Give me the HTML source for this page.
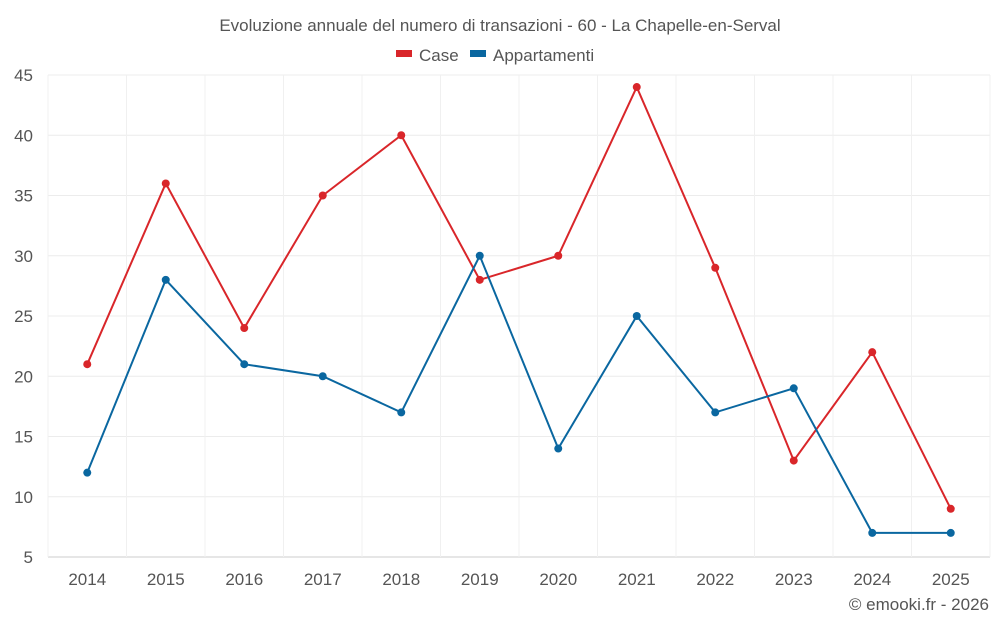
<!DOCTYPE html>
<html><head><meta charset="utf-8"><style>
body{margin:0;background:#fff;font-family:"Liberation Sans",sans-serif;}
svg text{font-family:"Liberation Sans",sans-serif;}
</style></head><body>
<svg id="chart" width="1000" height="625" xmlns="http://www.w3.org/2000/svg">
<text x="500" y="31" text-anchor="middle" font-size="17" fill="#555">Evoluzione annuale del numero di transazioni - 60 - La Chapelle-en-Serval</text>
<g>
<rect x="396" y="50" width="16" height="7" fill="#d9262a"/>
<text x="419" y="61" font-size="17" fill="#555">Case</text>
<rect x="470" y="50" width="16" height="7" fill="#0a67a0"/>
<text x="493" y="61" font-size="17" fill="#555">Appartamenti</text>
</g>
<g id="grid"></g>
<g id="axes"></g>
<g id="series"></g>
<text x="989" y="610" text-anchor="end" font-size="17" fill="#555">© emooki.fr - 2026</text>
</svg>
<script>
const years=[2014,2015,2016,2017,2018,2019,2020,2021,2022,2023,2024,2025];
const caseValues=[21,36,24,35,40,28,30,44,29,13,22,9];
const appValues=[12,28,21,20,17,30,14,25,17,19,7,7];
const yTicks=[5,10,15,20,25,30,35,40,45];
const NS="http://www.w3.org/2000/svg";
const pLeft=48,pRight=990,pTop=75,pBottom=557,yMin=5,yMax=45;
const step=(pRight-pLeft)/years.length;
const xs=i=>pLeft+step*(i+0.5);
const ys=v=>pBottom-(v-yMin)/(yMax-yMin)*(pBottom-pTop);
function mk(tag,attrs,parent){const e=document.createElementNS(NS,tag);for(const k in attrs)e.setAttribute(k,attrs[k]);parent.appendChild(e);return e;}
const gridG=document.getElementById('grid'),axesG=document.getElementById('axes'),seriesG=document.getElementById('series');
yTicks.forEach(t=>{
  const l=mk('line',{x1:pLeft,x2:pRight,y1:ys(t),y2:ys(t),stroke:t===yMin?'#ccc':'#ececec','stroke-width':1},gridG);
  
  
  const tx=mk('text',{x:33,y:ys(t)+6,'text-anchor':'end','font-size':17,fill:'#555'},axesG);
  tx.textContent=t;
  
  
});
for(let i=0;i<=years.length;i++){
  const gx=pLeft+step*i;
  const l=mk('line',{x1:gx,x2:gx,y1:pTop,y2:pBottom,stroke:'#f0f0f0','stroke-width':1},gridG);
  
  
}
years.forEach((yr,i)=>{
  const tx=mk('text',{x:xs(i),y:585,'text-anchor':'middle','font-size':17,fill:'#555'},axesG);
  tx.textContent=yr;
  
  
});
function drawSeries(vals,color,name){
  const p=mk('polyline',{points:vals.map((v,i)=>xs(i)+','+ys(v)).join(' '),fill:'none',stroke:color,'stroke-width':2},seriesG);
  
  
  vals.forEach((v,i)=>{
    const c=mk('circle',{cx:xs(i),cy:ys(v),r:4,fill:color},seriesG);
    
    
  });
}
drawSeries(caseValues,'#d9262a','case');
drawSeries(appValues,'#0a67a0','appartamenti');
</script>
</body></html>
